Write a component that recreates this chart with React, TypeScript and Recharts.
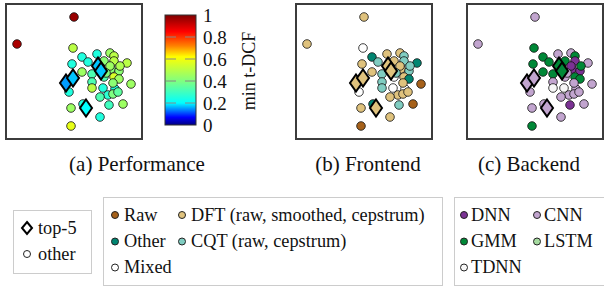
import React from 'react';
import { ScatterChart, Scatter, XAxis, YAxis } from 'recharts';

// embedding coordinates of the non-top systems
const otherX = [69, 12, 68, 77, 92, 105, 109, 109, 122, 67, 83, 99, 77, 87, 106, 114, 109, 114, 99, 87, 126, 87, 64, 98, 110, 103, 95, 108, 104, 118, 66, 95, 66, 78, 105, 115, 101, 108, 113];
const otherY = [123, 96, 92, 83, 86, 87, 84, 79, 77, 76, 78, 79, 68, 66, 71, 69, 63, 61, 63, 58, 56, 52, 48, 52, 51, 45, 43, 46, 35, 36, 32, 23, 14, 36, 74, 74, 67, 57, 48];
const otherDCF = [0.97, 0.95, 0.5, 0.25, 0.25, 0.45, 0.5, 0.5, 0.5, 0.25, 0.25, 0.42, 0.45, 0.32, 0.42, 0.42, 0.55, 0.45, 0.32, 0.32, 0.45, 0.5, 0.25, 0.25, 0.25, 0.27, 0.32, 0.4, 0.3, 0.45, 0.45, 0.25, 0.58, 0.25, 0.45, 0.48, 0.4, 0.42, 0.35];
const otherFront = ['DFT', 'DFT', 'Mixed', 'Other', 'DFT', 'DFT', 'CQT', 'CQT', 'Other', 'DFT', 'CQT', 'DFT', 'DFT', 'CQT', 'DFT', 'CQT', 'DFT', 'Other', 'Mixed', 'CQT', 'Raw', 'CQT', 'Mixed', 'Mixed', 'Mixed', 'DFT', 'DFT', 'DFT', 'CQT', 'Raw', 'DFT', 'DFT', 'Raw', 'Other', 'DFT', 'CQT', 'CQT', 'DFT', 'DFT'];
const otherBack = ['CNN', 'CNN', 'GMM', 'GMM', 'CNN', 'CNN', 'GMM', 'DNN', 'CNN', 'GMM', 'GMM', 'GMM', 'GMM', 'GMM', 'DNN', 'DNN', 'GMM', 'GMM', 'CNN', 'CNN', 'CNN', 'TDNN', 'CNN', 'TDNN', 'CNN', 'CNN', 'CNN', 'CNN', 'DNN', 'CNN', 'CNN', 'CNN', 'GMM', 'CNN', 'DNN', 'GMM', 'CNN', 'CNN', 'CNN'];

// top-5 systems
const topX = [93, 96, 61, 68, 81];
const topY = [74, 69, 57, 62, 32];
const topDCF = [0.17, 0.17, 0.15, 0.17, 0.2];
const topFront = ['DFT', 'DFT', 'DFT', 'DFT', 'DFT'];
const topBack = ['GMM', 'GMM', 'CNN', 'CNN', 'CNN'];

const frontLabels = ['Raw', 'DFT (raw, smoothed, cepstrum)', 'Other', 'CQT (raw, cepstrum)', 'Mixed'];
const frontKeys = ['Raw', 'DFT', 'Other', 'CQT', 'Mixed'];
const backKeys = ['DNN', 'CNN', 'GMM', 'LSTM', 'TDNN'];
const cbarTicks = [0, 0.2, 0.4, 0.6, 0.8, 1];

const frontColor: Record<string, string> = {
  Raw: '#a6611a', DFT: '#dfc27d', Other: '#018571', CQT: '#80cdc1', Mixed: '#ffffff',
};
const backColor: Record<string, string> = {
  DNN: '#7b3294', CNN: '#c2a5cf', GMM: '#008837', LSTM: '#a6dba0', TDNN: '#f7f7f7',
};

const stops: [number, number[]][] = [
  [0, [0, 0, 128]], [0.07, [0, 0, 255]], [0.2, [0, 255, 255]], [0.4, [128, 255, 128]],
  [0.62, [255, 255, 0]], [0.72, [255, 128, 0]], [0.85, [255, 0, 0]], [1, [128, 0, 0]],
];
const rgb = (c: number[]) => `rgb(${c.map(Math.round).join(',')})`;
const cmap = (v: number) => {
  for (let i = 1; i < stops.length; i++) {
    const [v1, c1] = stops[i];
    const [v0, c0] = stops[i - 1];
    if (v <= v1) {
      const t = (v - v0) / (v1 - v0);
      return rgb(c0.map((c, k) => c + (c1[k] - c) * t));
    }
  }
  return rgb(stops[stops.length - 1][1]);
};

type Pt = { x: number; y: number; dcf: number; front: string; back: string };
const others: Pt[] = otherX.map((x, i) => ({ x, y: otherY[i], dcf: otherDCF[i], front: otherFront[i], back: otherBack[i] }));
const tops: Pt[] = topX.map((x, i) => ({ x, y: topY[i], dcf: topDCF[i], front: topFront[i], back: topBack[i] }));

const serif = "'Liberation Serif', 'DejaVu Serif', serif";

const Panel = ({ left, colorOf }: { left: number; colorOf: (p: Pt) => string }) => (
  <div style={{ position: 'absolute', left, top: 3, width: 138, height: 137 }}>
    <ScatterChart width={138} height={137} margin={{ top: 0, right: 0, bottom: 0, left: 0 }}>
      <XAxis type="number" dataKey="x" domain={[0, 138]} hide />
      <YAxis type="number" dataKey="y" domain={[0, 137]} hide />
      <Scatter
        data={others}
        isAnimationActive={false}
        shape={(p: any) => <circle cx={p.cx} cy={p.cy} r={4.3} fill={colorOf(p.payload)} stroke="#111" strokeWidth={0.8} />}
      />
      <Scatter
        data={tops}
        isAnimationActive={false}
        shape={(p: any) => (
          <path
            d={`M${p.cx},${p.cy - 8.5}L${p.cx + 6},${p.cy}L${p.cx},${p.cy + 8.5}L${p.cx - 6},${p.cy}Z`}
            fill={colorOf(p.payload)}
            stroke="#000"
            strokeWidth={2}
          />
        )}
      />
    </ScatterChart>
    <div style={{ position: 'absolute', inset: 0, border: '2px solid #3c3c3c', boxSizing: 'border-box', pointerEvents: 'none' }} />
  </div>
);

const Dot = ({ x, y, fill }: { x: number; y: number; fill: string }) => (
  <circle cx={x} cy={y} r={3.5} fill={fill} stroke="#222" strokeWidth={1} />
);

const Txt = (props: any) => <text {...props} style={{ fontFamily: serif }} fill="#111" />;

export default function App() {
  const rows = [215, 241.5, 267.5];
  return (
    <div style={{ position: 'absolute', left: 0, top: 0, width: 604, height: 286, overflow: 'hidden', background: '#fff', fontFamily: serif }}>
      <Panel left={5} colorOf={(p) => cmap(p.dcf)} />
      <Panel left={295} colorOf={(p) => frontColor[p.front]} />
      <Panel left={466} colorOf={(p) => backColor[p.back]} />
      <svg width={604} height={286} style={{ position: 'absolute', left: 0, top: 0, pointerEvents: 'none', fontFamily: serif }}>
        <defs>
          <linearGradient id="jet" x1="0" y1="1" x2="0" y2="0">
            {stops.map(([v, c]) => <stop key={v} offset={v} stopColor={rgb(c)} />)}
          </linearGradient>
        </defs>
        {/* colour bar */}
        <rect x={165} y={15} width={31} height={110} fill="url(#jet)" stroke="#333" strokeWidth={1} />
        {cbarTicks.map((t) => {
          const y = 125 - t * 110;
          return (
            <g key={t}>
              {t > 0 && t < 1 && (
                <>
                  <line x1={166} x2={176} y1={y} y2={y} stroke="#888" strokeWidth={1} />
                  <line x1={185} x2={195} y1={y} y2={y} stroke="#888" strokeWidth={1} />
                </>
              )}
              <Txt x={203} y={y} dominantBaseline="central" fontSize={19}>{t === 0 || t === 1 ? String(t) : t.toFixed(1)}</Txt>
            </g>
          );
        })}
        <Txt transform="translate(249,71) rotate(-90)" textAnchor="middle" dominantBaseline="central" fontSize={18}>min t-DCF</Txt>

        {/* captions */}
        <Txt x={137} y={171} textAnchor="middle" fontSize={21}>(a) Performance</Txt>
        <Txt x={368} y={171} textAnchor="middle" fontSize={21}>(b) Frontend</Txt>
        <Txt x={529} y={171} textAnchor="middle" fontSize={21}>(c) Backend</Txt>

        {/* marker legend */}
        <rect x={13.5} y={210.5} width={78} height={63} fill="#fff" stroke="#ccc" />
        <path d="M27,222L32,228L27,234L22,228Z" fill="#fff" stroke="#000" strokeWidth={2} />
        <Txt x={38} y={234} fontSize={18.3}>top-5</Txt>
        <Dot x={27} y={254} fill="#fff" />
        <Txt x={38} y={260} fontSize={18.3}>other</Txt>

        {/* frontend legend */}
        <rect x={103.5} y={197.5} width={339} height={88} fill="#fff" stroke="#ccc" />
        {frontKeys.map((k, i) => {
          const col = i % 2;
          const y = rows[Math.floor(i / 2)];
          const mx = col === 0 ? 115 : 182;
          return (
            <g key={k}>
              <Dot x={mx} y={y} fill={frontColor[k]} />
              <Txt x={mx + 9} y={y + 5.5} fontSize={18.3}>{frontLabels[i]}</Txt>
            </g>
          );
        })}

        {/* backend legend */}
        <rect x={454.5} y={197.5} width={160} height={88} fill="#fff" stroke="#ccc" />
        {backKeys.map((k, i) => {
          const col = i % 2;
          const y = rows[Math.floor(i / 2)];
          const mx = col === 0 ? 464 : 537;
          return (
            <g key={k}>
              <Dot x={mx} y={y} fill={backColor[k]} />
              <Txt x={mx + 7} y={y + 5.5} fontSize={18.3}>{k}</Txt>
            </g>
          );
        })}
      </svg>
    </div>
  );
}
